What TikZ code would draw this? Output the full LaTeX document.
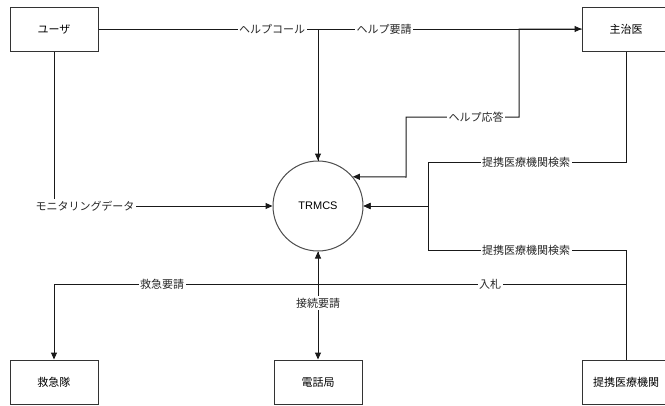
\documentclass[tikz,border=0pt]{standalone}
\usepackage{fontspec}
\setmainfont{Liberation Sans}
\newfontfamily\jp{Noto Sans CJK JP}
\usetikzlibrary{arrows.meta}
\begin{document}
\begin{tikzpicture}[x=1pt,y=-1pt,
  font=\fontsize{11}{13}\selectfont,
  entity/.style={draw=black!80,line width=1pt,minimum width=88pt,minimum height=44pt,inner sep=0pt,font=\fontsize{11}{13}\selectfont\jp},
  proc/.style={draw=black!70,line width=1pt,circle,minimum size=90pt,inner sep=0pt},
  flow/.style={draw=black!90,line width=1pt},
  arr/.style={flow,-{Triangle[length=7pt,width=6pt]}},
  lbl/.style={fill=white,inner sep=1.5pt,font=\fontsize{11}{13}\selectfont\jp,text=black!85}]
\useasboundingbox (0,0) rectangle (665,405);
\begin{scope}
\clip (0,0) rectangle (665,405);
\node[entity] (user) at (54,29) {ユーザ};
\node[entity] (doc) at (626,29) {主治医};
\node[proc] (trmcs) at (318,206) {TRMCS};
\node[entity] (amb) at (54,382) {救急隊};
\node[entity] (tel) at (318,382) {電話局};
\node[entity] (hosp) at (626,382) {提携医療機関};
\end{scope}
% corner coordinates
\coordinate (c1) at (318,29);
\coordinate (c2a) at (519,29);
\coordinate (c2b) at (519,117);
\coordinate (c2c) at (406,117);
\coordinate (c2d) at (406,177);
\coordinate (c3a) at (626,162);
\coordinate (c3b) at (428,162);
\coordinate (c3m) at (428,206);
\coordinate (c4a) at (626,250);
\coordinate (c4b) at (428,250);
\coordinate (c5) at (54,206);
\coordinate (c6a) at (318,284);
\coordinate (c6b) at (54,284);
\coordinate (c7) at (626,284);
% flows
\draw[arr] (user.east) -- (c1) -- (trmcs.north);
\draw[arr] (trmcs.north) -- (c1) -- (doc.west);
\draw[arr] (doc.west) -- (c2a) -- (c2b) -- (c2c) -- (c2d) -- (trmcs.40);
\draw[arr] (doc.south) -- (c3a) -- (c3b) -- (c3m) -- (trmcs.east);
\draw[arr] (hosp.north) -- (c4a) -- (c4b) -- (c3m) -- (trmcs.east);
\draw[arr] (user.south) -- (c5) -- (trmcs.west);
\draw[arr] (trmcs.south) -- (c6a) -- (c6b) -- (amb.north);
\draw[arr] (trmcs.south) -- (tel.north);
\draw[arr] (hosp.north) -- (c7) -- (c6a) -- (trmcs.south);
% labels
\node[lbl] (l1) at (272,29) {ヘルプコール};
\node[lbl] (l2) at (384,29) {ヘルプ要請};
\node[lbl] (l3) at (476,117) {ヘルプ応答};
\node[lbl] (l4) at (526,162) {提携医療機関検索};
\node[lbl] (l5) at (526,250) {提携医療機関検索};
\node[lbl] (l6) at (85,206) {モニタリングデータ};
\node[lbl] (l7) at (162,284) {救急要請};
\node[lbl] (l8) at (318,303) {接続要請};
\node[lbl] (l9) at (490,284) {入札};
\end{tikzpicture}
\end{document}
